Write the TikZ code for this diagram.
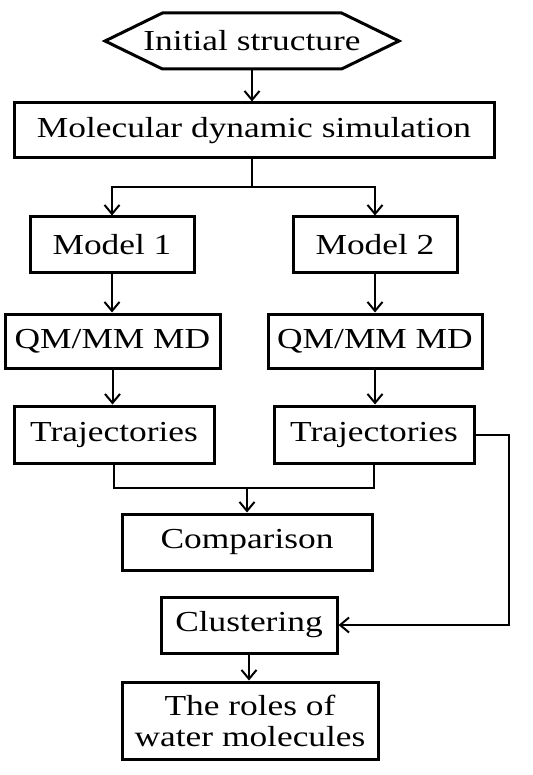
\documentclass[tikz,border=0pt]{standalone}
\usepackage{fontspec}
\setmainfont{Liberation Serif}[FakeStretch=1.22]
\usetikzlibrary{arrows.meta,shapes.symbols}

\begin{document}
\begin{tikzpicture}[x=1pt,y=-1pt,
        box/.style={draw,line width=3pt,inner sep=0pt,align=center,
            font=\fontsize{29}{31}\selectfont},
        link/.style={line width=2pt},
        arr/.style={link,-{Straight Barb[length=9pt,width=15pt,line width=2pt]}}]
        \useasboundingbox (0,0) rectangle (532,775);

        \begin{scope}[every node/.style={box}]
            \node[shape=signal,signal to=west and east,signal pointer angle=52,inner xsep=-19pt,
                minimum width=292pt,minimum height=56pt] (Init) at (252,41) {Initial structure};
            \node[minimum width=480pt,minimum height=55pt] (MD) at (254,130.5) {Molecular dynamic simulation};
            \node[minimum width=164pt,minimum height=55pt] (M1) at (112,244.5) {Model 1};
            \node[minimum width=164pt,minimum height=55pt] (M2) at (375,244.5) {Model 2};
            \node[minimum width=215pt,minimum height=54pt] (Q1) at (112.5,341) {QM/MM MD};
            \node[minimum width=214pt,minimum height=54pt] (Q2) at (375,341) {QM/MM MD};
            \node[minimum width=200pt,minimum height=57pt] (T1) at (114,434.5) {Trajectories};
            \node[minimum width=200pt,minimum height=57pt] (T2) at (374,434.5) {Trajectories};
            \node[minimum width=250pt,minimum height=56pt] (Cmp) at (247,542) {Comparison};
            \node[minimum width=176pt,minimum height=56pt] (Clu) at (249,625) {Clustering};
            \node[minimum width=256pt,minimum height=77pt] (Roles) at (250,720.5) {The roles of\\ water molecules};
        \end{scope}

        \coordinate (Fork) at (252,187);
        \coordinate (Merge) at (247,488);

        % Verzweigung
        \draw[arr] (Init.south) -- (Init.south |- MD.north);
        \draw[link] (Fork |- MD.south) -- (Fork);
        \draw[arr] (Fork) -| (M1.north);
        \draw[arr] (Fork) -| (M2.north);

        % Zweige
        \draw[arr] (M1.south) -- (M1.south |- Q1.north);
        \draw[arr] (M2.south) -- (M2.south |- Q2.north);
        \draw[arr] (Q1.south) -- (Q1.south |- T1.north);
        \draw[arr] (Q2.south) -- (Q2.south |- T2.north);

        % Zusammenfuehrung
        \draw[link] (T1.south) |- (Merge) -| (T2.south);
        \draw[arr] (Merge) -- (Merge |- Cmp.north);
        \draw[arr] (T2.east) -- ++(33,0) |- (Clu.east);
        \draw[arr] (Clu.south) -- (Clu.south |- Roles.north);
    \end{tikzpicture}
\end{document}
